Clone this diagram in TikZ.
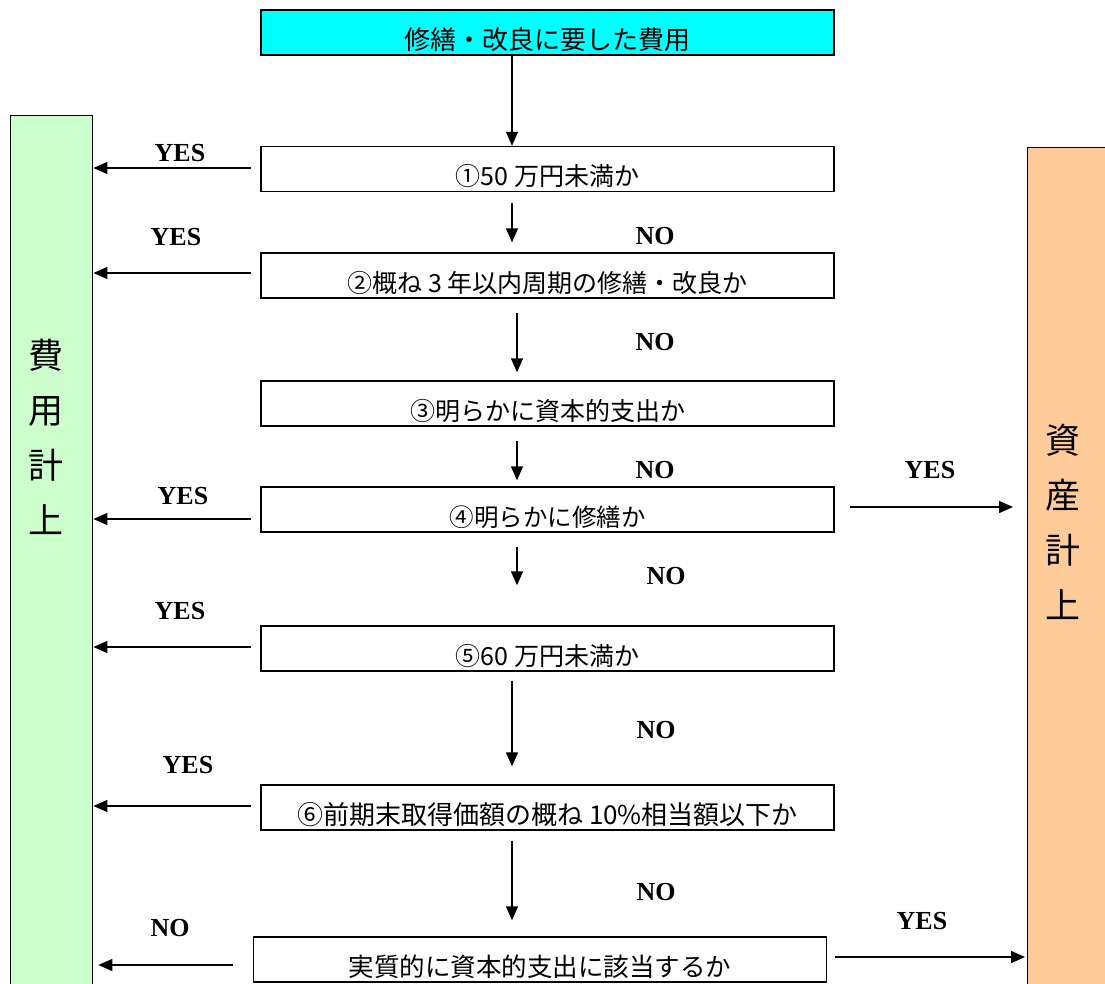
\documentclass[tikz,border=0pt]{standalone}
\usepackage{fontspec}
\newfontfamily\jp{Noto Sans CJK JP}
\newfontfamily\yn{Liberation Serif}[BoldFont={Liberation Serif Bold}]
\usetikzlibrary{arrows.meta,calc}
\definecolor{cyanbox}{HTML}{00FFFF}
\definecolor{greenbox}{HTML}{CCFFCC}
\definecolor{orangebox}{HTML}{FFCC99}
\tikzset{
  qbox/.style={draw=black,line width=1.4pt,fill=white,minimum width=573pt,inner xsep=0pt,inner ysep=0pt,text height=39pt,text depth=6pt,anchor=center},
  arr/.style={line width=1.4pt,-{Triangle[length=14pt,width=12pt]}},
  lbl/.style={font=\yn\bfseries\fontsize{26}{28}\selectfont,inner sep=0pt},
  side/.style={font=\jp\fontsize{35}{55}\selectfont,align=center,inner sep=0pt}
}
\begin{document}
\begin{tikzpicture}[x=1pt,y=-1pt]
\useasboundingbox (0,0) rectangle (1105,983);
% side boxes
\node[draw=black,line width=1.4pt,fill=greenbox,minimum width=82pt,minimum height=880pt,inner sep=0pt,anchor=north west] (fee) at (10,115) {};
\node[draw=black,line width=1.4pt,fill=orangebox,minimum width=90pt,minimum height=850pt,inner sep=0pt,anchor=north west] (asset) at (1027,147) {};
\node[side] (feetxt) at (46,437) {費\\用\\計\\上};
\node[side] (assettxt) at (1063,522) {資\\産\\計\\上};
% question boxes
\node[qbox,fill=cyanbox,font=\jp\fontsize{26}{30}\selectfont] (top) at (547.5,32.5) {修繕・改良に要した費用};
\node[qbox,font=\jp\fontsize{25}{28}\selectfont] (b1) at (547.5,169) {①50 万円未満か};
\node[qbox,font=\jp\fontsize{25}{28}\selectfont] (b2) at (547.5,275.5) {②概ね 3 年以内周期の修繕・改良か};
\node[qbox,font=\jp\fontsize{25}{28}\selectfont] (b3) at (547.5,403.5) {③明らかに資本的支出か};
\node[qbox,font=\jp\fontsize{24.5}{28}\selectfont] (b4) at (547.5,509.5) {④明らかに修繕か};
\node[qbox,font=\jp\fontsize{25}{28}\selectfont] (b5) at (547.5,648.5) {⑤60 万円未満か};
\node[qbox,font=\jp\fontsize{26}{28}\selectfont] (b6) at (547.5,807.5) {⑥前期末取得価額の概ね 10\%相当額以下か};
\node[qbox,font=\jp\fontsize{25.5}{28}\selectfont] (b7) at (540,959.5) {実質的に資本的支出に該当するか};
% down arrows
\draw[arr] ([xshift=-35.5pt]top.south) -- ([xshift=-35.5pt]b1.north);
\draw[arr] ([shift={(-35.5,11)}]b1.south) -- ([shift={(-35.5,-10)}]b2.north);
\draw[arr] ([shift={(-30.5,14)}]b2.south) -- ([shift={(-30.5,-8)}]b3.north);
\draw[arr] ([shift={(-30.5,14)}]b3.south) -- ([shift={(-30.5,-6)}]b4.north);
\draw[arr] ([shift={(-30.5,14)}]b4.south) -- ([shift={(-30.5,-40)}]b5.north);
\draw[arr] ([shift={(-35.5,9)}]b5.south) -- ([shift={(-35.5,-18)}]b6.north);
\draw[arr] ([shift={(-35.5,10)}]b6.south) -- ([shift={(-28,-16)}]b7.north);
% left arrows (YES -> expense)
\draw[arr] ([shift={(-9,-1)}]b1.west) coordinate (s1) -- (s1 -| fee.east);
\draw[arr] ([shift={(-9,-2.5)}]b2.west) coordinate (s2) -- (s2 -| fee.east);
\draw[arr] ([shift={(-9,9.5)}]b4.west) coordinate (s4) -- (s4 -| fee.east);
\draw[arr] ([shift={(-9,-1.5)}]b5.west) coordinate (s5) -- (s5 -| fee.east);
\draw[arr] ([shift={(-9,-1.5)}]b6.west) coordinate (s6) -- (s6 -| fee.east);
\draw[arr] ([shift={(-20,5.5)}]b7.west) coordinate (s7) -- ([xshift=5pt]s7 -| fee.east);
% right arrows (YES -> asset)
\draw[arr] ([shift={(15,-2.5)}]b4.east) coordinate (r4) -- ([xshift=-14pt]r4 -| asset.west);
\draw[arr] ([shift={(8,-2.5)}]b7.east) coordinate (r7) -- ([xshift=-2pt]r7 -| asset.west);
% labels
\node[lbl] (y1) at (180,153) {YES};
\node[lbl] (y2) at (176,237) {YES};
\node[lbl] (y4) at (183,496) {YES};
\node[lbl] (y5) at (180,611) {YES};
\node[lbl] (y6) at (188,765) {YES};
\node[lbl] (n7) at (170,928) {NO};
\node[lbl] (n1) at (655,236) {NO};
\node[lbl] (n2) at (655,342) {NO};
\node[lbl] (n3) at (655,470) {NO};
\node[lbl] (n4) at (666,576) {NO};
\node[lbl] (n5) at (656,730) {NO};
\node[lbl] (n6) at (656,892) {NO};
\node[lbl] (yr4) at (930,470) {YES};
\node[lbl] (yr7) at (922,921) {YES};
\end{tikzpicture}
\end{document}
